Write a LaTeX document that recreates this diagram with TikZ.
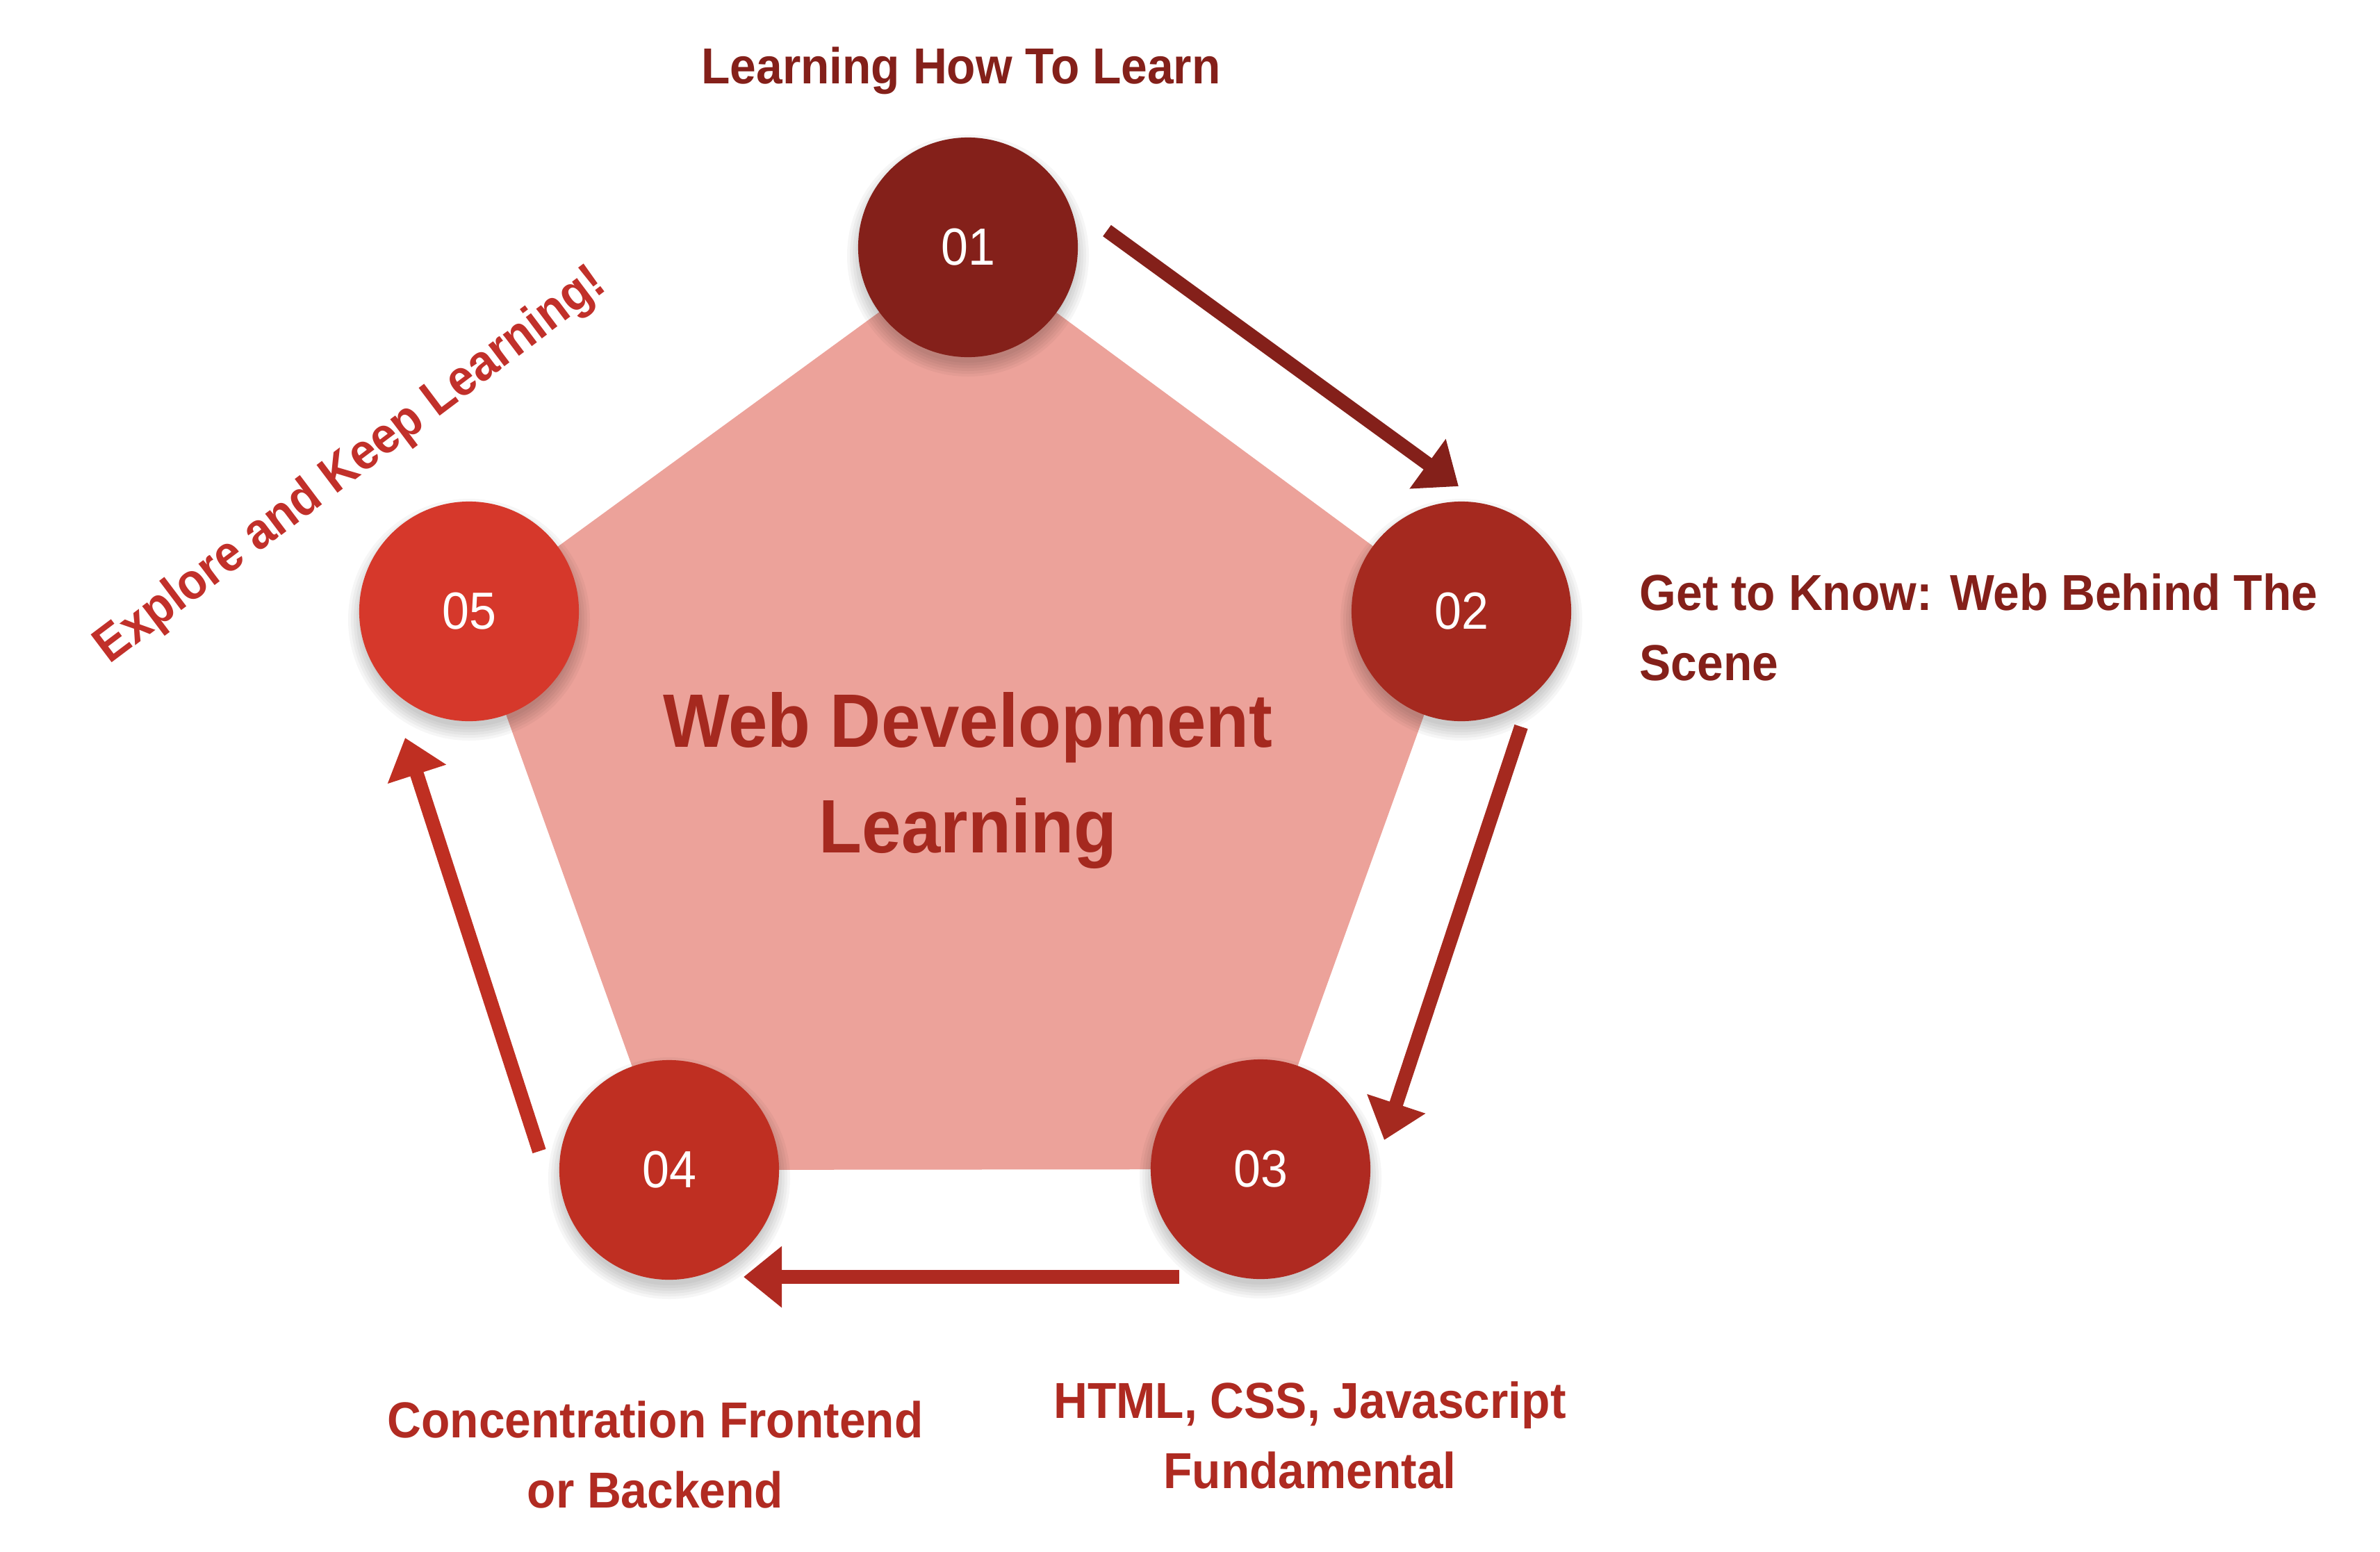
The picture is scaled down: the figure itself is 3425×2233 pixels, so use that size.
\documentclass[tikz,border=0pt]{standalone}
\usepackage{fontspec}
\setmainfont{Liberation Sans}[FakeStretch=0.93]
\usetikzlibrary{arrows.meta,calc}
\definecolor{cA}{HTML}{84201A}
\definecolor{cB}{HTML}{A5291F}
\definecolor{cC}{HTML}{AF2A21}
\definecolor{cD}{HTML}{BF2F22}
\definecolor{cE}{HTML}{D6382B}
\definecolor{pent}{HTML}{ECA29A}
\definecolor{lblC}{HTML}{AE2A21}
\definecolor{lblD}{HTML}{B12B22}
\definecolor{lblE}{HTML}{C1302A}
\tikzset{
  stepcircle/.style={circle, minimum size=3.16cm, inner sep=0pt, text=white,
    font=\fontsize{21.4pt}{24pt}\selectfont},
  lbl/.style={inner sep=0pt, font=\fontsize{20.7pt}{28.7pt}\selectfont\bfseries},
  flow/.style={line width=0.2cm, -{Triangle[width=0.85cm,length=0.55cm]}},
  shadowblob/.style={fill=black, opacity=0.035}
}
\begin{document}
\begin{tikzpicture}[x=0.01cm, y=-0.01cm]
\useasboundingbox (0,0) rectangle (3425,2233);
\fill[white] (0,0) rectangle (3425,2233);

% centres
\coordinate (p1) at (1393,356);
\coordinate (p2) at (2103,880);
\coordinate (p3) at (1814,1683);
\coordinate (p4) at (963,1684);
\coordinate (p5) at (675,880);

% pentagon
\fill[pent] (p1) -- (p2) -- (p3) -- (p4) -- (p5) -- cycle;

% soft shadows
\foreach \p in {p1,p2,p3,p4,p5}{
  \foreach \r in {174,170,...,154}{
    \fill[shadowblob] ($(\p)+(0,12)$) circle (\r);
  }
}

% circles
\node[stepcircle, fill=cA] (n1) at (p1) {01};
\node[stepcircle, fill=cB] (n2) at (p2) {02};
\node[stepcircle, fill=cC] (n3) at (p3) {03};
\node[stepcircle, fill=cD] (n4) at (p4) {04};
\node[stepcircle, fill=cE] (n5) at (p5) {05};

% centre title (base anchor = last line baseline)
\node[inner sep=0pt, text=cB, align=center, anchor=base,
  font=\fontsize{31pt}{43.2pt}\selectfont\bfseries] (title) at (1393,1227)
  {Web Development\\Learning};

% labels
\node[lbl, text=cA, anchor=base] (l1) at (1383,120) {Learning How To Learn};
\node[lbl, text=cA, anchor=base west, align=left] (l2) at (2359,979)
  {Get to Know: Web Behind The\\Scene};
\node[lbl, text=lblC, anchor=base, align=center] (l3) at (1885,2142)
  {HTML, CSS, Javascript\\Fundamental};
\node[lbl, text=lblD, anchor=base, align=center] (l4) at (943,2170)
  {Concentration Frontend\\or Backend};
\node[lbl, text=lblE, anchor=base, rotate=37] (l5) at (517,686)
  {Explore and Keep Learning!};

% arrow end points
\coordinate (a1s) at (1593,332);  \coordinate (a1e) at (2099,700);
\coordinate (a2s) at (2189,1046); \coordinate (a2e) at (1992,1641);
\coordinate (a3s) at (1697,1838); \coordinate (a3e) at (1070,1838);
\coordinate (a4s) at (776,1657);  \coordinate (a4e) at (583,1062);

\draw[flow, cA] (a1s) -- (a1e);
\draw[flow, cB] (a2s) -- (a2e);
\draw[flow, cC] (a3s) -- (a3e);
\draw[flow, cD] (a4s) -- (a4e);
\end{tikzpicture}
\end{document}
